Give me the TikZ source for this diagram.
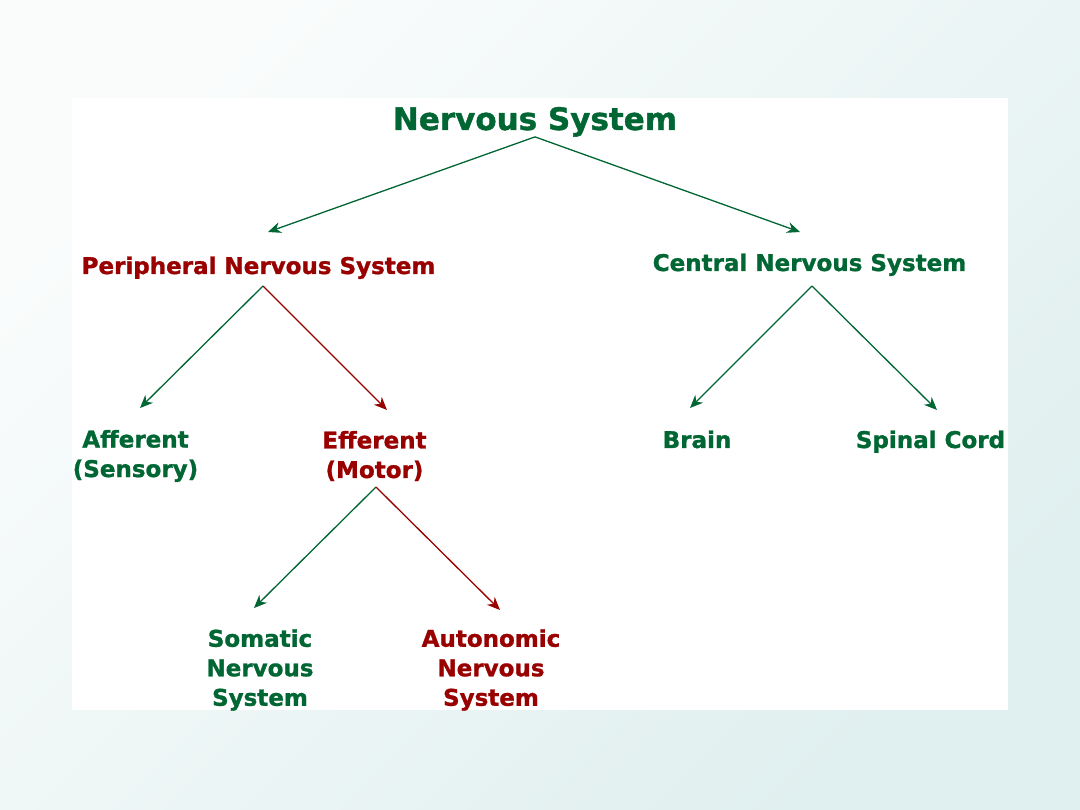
\documentclass[tikz,border=0pt]{standalone}
\usepackage{fontspec}
\setmainfont{DejaVu Sans}[BoldFeatures={FakeBold=1.2}]
\usetikzlibrary{arrows.meta,positioning}
\definecolor{nsgreen}{RGB}{0,102,51}
\definecolor{nsred}{RGB}{153,0,0}
\definecolor{bgtl}{RGB}{250,252,252}
\definecolor{bgbr}{RGB}{224,239,239}

\tikzset{
  title/.style={font=\bfseries\fontsize{31}{36}\selectfont,text=nsgreen,inner sep=0pt},
  lbl/.style={font=\bfseries\fontsize{23}{29.5}\selectfont,align=center,inner sep=0pt},
  arr/.style={-{Stealth[length=13pt,width=11pt]},line width=1.3pt}
}

\begin{document}
\begin{tikzpicture}[x=1pt,y=-1pt]
  \useasboundingbox (0,0) rectangle (1080,810);
  \shade[top color=bgtl,bottom color=bgbr,shading angle=45] (0,0) rectangle (1080,810);
  \fill[white] (72,98) rectangle (1008,710);
  % labels
  \node[title,anchor=base] (ns) at (535,130) {Nervous System};
  \node[lbl,text=nsred,anchor=base] (pns) at (258.5,274) {Peripheral Nervous System};
  \node[lbl,text=nsgreen,anchor=base] (cns) at (809.5,271) {Central Nervous System};
  \node[lbl,text=nsgreen] (aff) at (135.5,456) {Afferent\\(Sensory)};
  \node[lbl,text=nsred] (eff) at (374.5,456) {Efferent\\(Motor)};
  \node[lbl,text=nsgreen,anchor=base] (brain) at (697,448) {Brain};
  \node[lbl,text=nsgreen,anchor=base] (spine) at (930.5,448) {Spinal Cord};
  \node[lbl,text=nsgreen] (som) at (260,670) {Somatic\\Nervous\\System};
  \node[lbl,text=nsred] (aut) at (491,670) {Autonomic\\Nervous\\System};
  % fork points and arrow tips
  \coordinate (pfork) at (263,286);
  \coordinate (cfork) at (812,286);
  \coordinate (efork) at (376,487);
  \coordinate (pnstip) at (268,232);
  \coordinate (cnstip) at (800,232);
  \coordinate (afftip) at (140,408);
  \coordinate (efftip) at (387,410);
  \coordinate (braintip) at (690,408);
  \coordinate (spinetip) at (937,410);
  \coordinate (somtip) at (254,608);
  \coordinate (auttip) at (500,610);
  % arrows
  \draw[arr,nsgreen] (ns.south) -- (pnstip);
  \draw[arr,nsgreen] (ns.south) -- (cnstip);
  \draw[arr,nsgreen] (pfork) -- (afftip);
  \draw[arr,nsred] (pfork) -- (efftip);
  \draw[arr,nsgreen] (cfork) -- (braintip);
  \draw[arr,nsgreen] (cfork) -- (spinetip);
  \draw[arr,nsgreen] (efork) -- (somtip);
  \draw[arr,nsred] (efork) -- (auttip);
\end{tikzpicture}
\end{document}
